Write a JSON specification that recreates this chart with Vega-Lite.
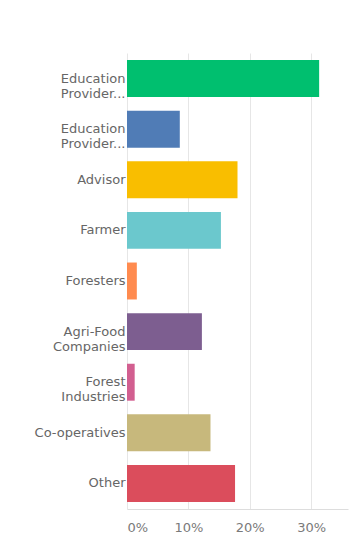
{
  "$schema": "https://vega.github.io/schema/vega-lite/v6.json",
  "width": 221,
  "height": 456,
  "autosize": {"type": "none"},
  "padding": {"left": 127, "top": 53, "right": 13, "bottom": 40},
  "background": "white",
  "config": {"view": {"stroke": null}},
  "data": {
    "values": [
      {"category": "Education Provider...#1", "order": 1, "pct": 0.313, "color": "#00BF6F"},
      {"category": "Education Provider...#2", "order": 2, "pct": 0.086, "color": "#507CB6"},
      {"category": "Advisor", "order": 3, "pct": 0.180, "color": "#F9BE00"},
      {"category": "Farmer", "order": 4, "pct": 0.153, "color": "#6BC8CD"},
      {"category": "Foresters", "order": 5, "pct": 0.016, "color": "#FF8B4F"},
      {"category": "Agri-Food Companies", "order": 6, "pct": 0.122, "color": "#7D5E90"},
      {"category": "Forest Industries", "order": 7, "pct": 0.0125, "color": "#D25F90"},
      {"category": "Co-operatives", "order": 8, "pct": 0.136, "color": "#C7B87C"},
      {"category": "Other", "order": 9, "pct": 0.176, "color": "#DB4D5C"}
    ]
  },
  "mark": {"type": "bar"},
  "encoding": {
    "y": {
      "field": "category",
      "type": "nominal",
      "sort": {"field": "order", "order": "ascending"},
      "scale": {"paddingInner": 0.27, "paddingOuter": 0.14},
      "axis": {
        "title": null,
        "ticks": false,
        "domain": false,
        "labelPadding": 2,
        "labelFont": "DejaVu Sans",
        "labelFontSize": 13,
        "labelColor": "#666666",
        "labelLineHeight": 15,
        "labelLimit": 200,
        "labelExpr": "split(split(datum.value, '#')[0], ' ')"
      }
    },
    "x": {
      "field": "pct",
      "type": "quantitative",
      "scale": {"domain": [0, 0.36], "nice": false},
      "axis": {
        "title": null,
        "format": ".0%",
        "values": [0, 0.1, 0.2, 0.3],
        "ticks": false,
        "labelPadding": 12,
        "labelFont": "DejaVu Sans",
        "labelFontSize": 13,
        "labelColor": "#7a7a7a",
        "gridColor": "#e6e6e6",
        "domainColor": "#dddddd"
      }
    },
    "color": {"field": "color", "type": "nominal", "scale": null, "legend": null}
  }
}
